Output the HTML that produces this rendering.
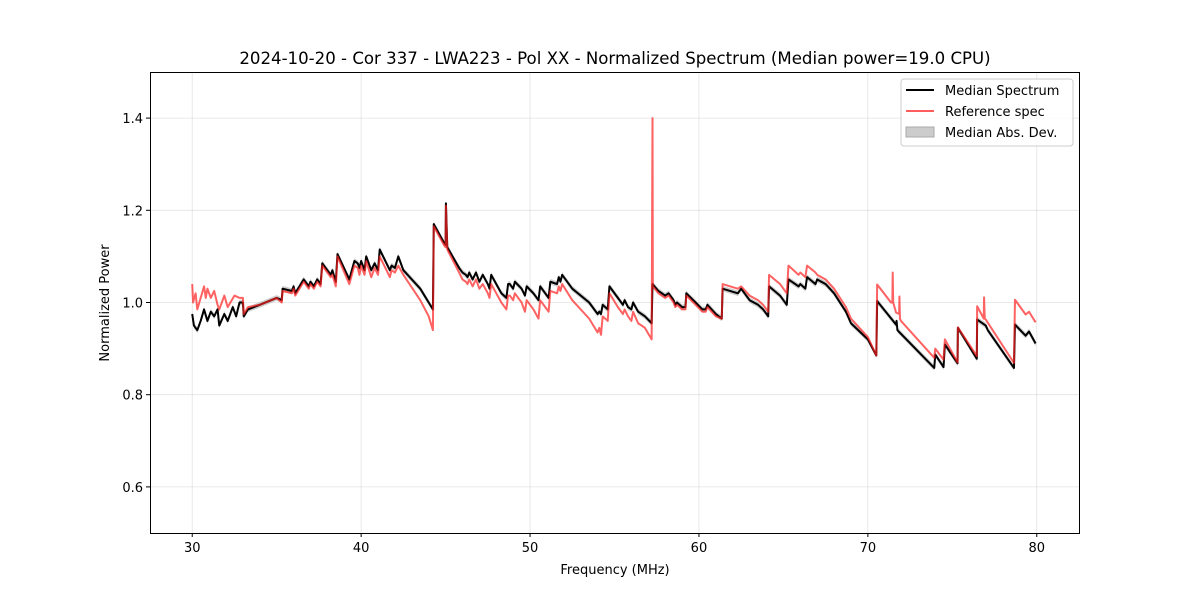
<!DOCTYPE html>
<html><head><meta charset="utf-8"><style>
body{margin:0;background:#fff;font-family:"Liberation Sans","DejaVu Sans",sans-serif}
</style></head><body>
<svg id="chart" width="1200" height="600" xmlns="http://www.w3.org/2000/svg" font-family="DejaVu Sans, Liberation Sans, sans-serif">
<rect width="1200" height="600" fill="#fff"/>
<text x="615" y="64" font-size="16.6" text-anchor="middle">2024-10-20 - Cor 337 - LWA223 - Pol XX - Normalized Spectrum (Median power=19.0 CPU)</text>
<g id="grid"></g>
<g id="plot"></g>
<rect x="150.5" y="72.5" width="929" height="461" fill="none" stroke="#000" stroke-width="1"/>
<g id="ticks" font-size="13"></g>
<text x="615" y="574" font-size="13" text-anchor="middle">Frequency (MHz)</text>
<text transform="translate(109,303) rotate(-90)" font-size="13" text-anchor="middle">Normalized Power</text>
<g>
<rect x="901" y="79" width="172" height="67" rx="3" fill="#fff" fill-opacity="0.8" stroke="#ccc"/>
<line x1="906" y1="90" x2="934" y2="90" stroke="#000" stroke-width="2"/>
<text x="945" y="95" font-size="13">Median Spectrum</text>
<line x1="906" y1="111" x2="934" y2="111" stroke="#ff5c5c" stroke-width="2"/>
<text x="945" y="116" font-size="13">Reference spec</text>
<rect x="906" y="127" width="28" height="10" fill="#ccc" stroke="#aaa"/>
<text x="945" y="137" font-size="13">Median Abs. Dev.</text>
</g>
</svg>
<script>
const xTicks=[30,40,50,60,70,80];
const yTicks=[0.6,0.8,1.0,1.2,1.4];
const medFreq=[30.0,30.1,30.3,30.5,30.7,30.9,31.1,31.3,31.5,31.6,31.9,32.1,32.4,32.6,32.8,33.0,33.05,33.3,34.0,35.0,35.3,35.35,35.9,36.0,36.1,36.6,36.9,37.0,37.2,37.4,37.6,37.7,38.2,38.3,38.5,38.6,39.3,39.6,39.8,39.9,40.0,40.2,40.3,40.6,40.8,41.0,41.1,41.7,41.8,42.0,42.2,42.5,43.5,44.0,44.25,44.3,44.9,45.0,45.02,45.1,45.8,46.0,46.2,46.3,46.4,46.6,46.8,47.0,47.2,47.5,47.6,47.7,48.3,48.6,48.7,48.8,49.0,49.1,49.5,49.7,49.8,50.2,50.5,50.6,50.9,51.1,51.2,51.6,51.7,51.8,51.9,52.5,53.5,54.0,54.1,54.2,54.3,54.6,54.7,55.2,55.5,55.6,55.8,56.0,56.1,56.4,56.8,57.2,57.25,57.6,58.0,58.2,58.5,58.6,58.7,59.0,59.2,59.25,59.8,60.2,60.4,60.5,61.0,61.35,61.4,62.3,62.5,63.0,63.5,63.8,64.1,64.15,64.8,65.2,65.3,65.9,66.0,66.3,66.4,66.9,67.0,67.5,68.0,68.7,69.0,70.0,70.5,70.55,71.67,71.7,71.75,73.93,73.99,74.48,74.56,75.31,75.33,76.45,76.47,76.98,77.1,78.65,78.71,79.34,79.54,79.93];
const medVal=[0.975,0.95,0.94,0.96,0.985,0.96,0.98,0.97,0.985,0.95,0.975,0.96,0.99,0.97,1.0,1.0,0.97,0.985,0.995,1.01,1.005,1.03,1.025,1.035,1.02,1.05,1.035,1.045,1.035,1.05,1.04,1.085,1.06,1.07,1.045,1.105,1.05,1.09,1.085,1.075,1.09,1.07,1.1,1.07,1.085,1.07,1.115,1.07,1.08,1.075,1.1,1.07,1.03,1.0,0.985,1.17,1.13,1.125,1.215,1.12,1.075,1.065,1.06,1.055,1.065,1.05,1.065,1.045,1.06,1.04,1.03,1.06,1.02,1.01,1.04,1.04,1.03,1.045,1.03,1.015,1.035,1.02,1.005,1.035,1.02,1.01,1.045,1.04,1.055,1.045,1.06,1.03,1.0,0.975,0.98,0.975,0.995,0.985,1.035,1.01,0.995,1.005,0.99,0.985,1.0,0.98,0.97,0.955,1.04,1.025,1.015,1.02,1.005,0.995,1.0,0.99,0.99,1.02,1.0,0.985,0.985,0.995,0.975,0.965,1.03,1.02,1.03,1.005,0.995,0.985,0.97,1.035,1.015,0.995,1.05,1.035,1.04,1.03,1.055,1.04,1.05,1.04,1.02,0.98,0.955,0.92,0.885,1.003,0.952,0.96,0.94,0.858,0.887,0.86,0.909,0.868,0.945,0.878,0.963,0.95,0.94,0.858,0.952,0.928,0.937,0.911];
const refFreq=[30.0,30.05,30.2,30.3,30.5,30.7,30.8,30.9,31.1,31.3,31.5,31.6,31.9,32.1,32.5,32.8,33.0,33.05,33.3,34.0,35.0,35.3,35.35,35.9,36.0,36.1,36.6,36.9,37.0,37.2,37.4,37.6,37.7,38.2,38.3,38.5,38.6,39.3,39.6,39.8,39.9,40.0,40.2,40.3,40.6,40.8,41.0,41.1,41.7,41.8,42.0,42.2,42.5,43.5,44.0,44.25,44.3,44.9,45.0,45.02,45.1,45.8,46.0,46.2,46.3,46.4,46.6,46.8,47.0,47.2,47.5,47.6,47.7,48.3,48.6,48.7,48.8,49.0,49.1,49.5,49.7,49.8,50.2,50.5,50.6,50.9,51.1,51.2,51.6,51.7,51.8,51.9,52.5,53.5,54.0,54.1,54.2,54.3,54.6,54.7,55.2,55.5,55.6,55.8,56.0,56.1,56.4,56.8,57.2,57.25,57.27,57.6,58.0,58.2,58.5,58.6,58.7,59.0,59.2,59.25,59.8,60.2,60.4,60.5,61.0,61.35,61.4,62.3,62.5,63.0,63.5,63.8,64.1,64.15,64.8,65.2,65.3,65.9,66.0,66.3,66.4,66.9,67.0,67.5,68.0,68.7,69.0,70.0,70.5,70.55,71.37,71.45,71.47,71.5,71.67,71.85,71.87,71.9,71.96,73.93,73.99,74.48,74.56,75.31,75.33,76.45,76.47,76.86,76.88,76.92,76.98,78.65,78.71,79.34,79.54,79.93];
const refVal=[1.04,1.0,1.02,0.985,1.01,1.035,1.01,1.03,1.01,1.025,0.995,0.985,1.015,0.99,1.015,1.01,1.01,0.975,0.99,0.995,1.01,1.0,1.025,1.02,1.03,1.015,1.045,1.03,1.04,1.03,1.045,1.035,1.08,1.055,1.06,1.035,1.1,1.04,1.08,1.075,1.06,1.08,1.06,1.09,1.055,1.075,1.06,1.1,1.055,1.07,1.065,1.08,1.06,1.005,0.97,0.94,1.165,1.125,1.12,1.21,1.115,1.065,1.05,1.045,1.04,1.05,1.035,1.05,1.03,1.04,1.02,1.01,1.04,1.0,0.985,1.015,1.015,1.005,1.02,1.0,0.98,1.005,0.985,0.965,1.005,0.99,0.98,1.025,1.02,1.035,1.025,1.04,1.005,0.965,0.935,0.945,0.93,0.97,0.96,1.02,0.99,0.975,0.985,0.97,0.96,0.98,0.955,0.945,0.92,1.4,1.035,1.02,1.01,1.015,1.0,0.99,0.995,0.985,0.985,1.015,0.995,0.98,0.98,0.99,0.97,0.965,1.04,1.03,1.035,1.015,1.005,0.995,0.98,1.06,1.04,1.02,1.08,1.06,1.065,1.055,1.08,1.065,1.06,1.05,1.03,0.99,0.965,0.925,0.885,1.039,1.0,1.0,1.065,1.0,0.978,0.975,1.013,0.965,0.96,0.88,0.90,0.876,0.92,0.87,0.946,0.884,0.992,0.965,1.011,0.965,0.963,0.869,1.006,0.974,0.98,0.957];
const madHalf=0.006;

const X0=150,X1=1079,Y0=533,Y1=72,xmin=27.5,xmax=82.5,ymin=0.5,ymax=1.5;
const xs=v=>X0+(v-xmin)/(xmax-xmin)*(X1-X0);
const ys=v=>Y0-(v-ymin)/(ymax-ymin)*(Y0-Y1);
const NS='http://www.w3.org/2000/svg';
const mk=(t,a,p)=>{const e=document.createElementNS(NS,t);for(const k in a)e.setAttribute(k,a[k]);p.appendChild(e);return e;};
const grid=document.getElementById('grid'),ticks=document.getElementById('ticks'),plot=document.getElementById('plot');
xTicks.forEach(t=>{const x=xs(t);
 const g=mk('line',{x1:x,x2:x,y1:Y1,y2:Y0,stroke:'#b0b0b0','stroke-opacity':0.35,'stroke-width':0.8},grid);
 
 
 const l=mk('line',{x1:x,x2:x,y1:Y0,y2:Y0+4,stroke:'#000'},ticks);
 
 
 const tx=mk('text',{x:x,y:Y0+19,'text-anchor':'middle'},ticks);tx.textContent=t;
 
 
});
yTicks.forEach(t=>{const y=ys(t);
 const g=mk('line',{x1:X0,x2:X1,y1:y,y2:y,stroke:'#b0b0b0','stroke-opacity':0.35,'stroke-width':0.8},grid);
 
 
 const l=mk('line',{x1:X0-4,x2:X0,y1:y,y2:y,stroke:'#000'},ticks);
 
 
 const tx=mk('text',{x:X0-7,y:y+5,'text-anchor':'end'},ticks);tx.textContent=t.toFixed(1);
 
 
});
let up=medFreq.map((f,i)=>xs(f)+','+ys(medVal[i]+madHalf));
let dn=medFreq.map((f,i)=>xs(f)+','+ys(medVal[i]-madHalf)).reverse();
const band=mk('polygon',{points:up.concat(dn).join(' '),fill:'#aaa','fill-opacity':0.6,stroke:'none'},plot);


const med=mk('polyline',{points:medFreq.map((f,i)=>xs(f)+','+ys(medVal[i])).join(' '),fill:'none',stroke:'#000','stroke-width':2,'stroke-linejoin':'round'},plot);


const ref=mk('polyline',{points:refFreq.map((f,i)=>xs(f)+','+ys(refVal[i])).join(' '),fill:'none',stroke:'#ff2020','stroke-opacity':0.7,'stroke-width':2,'stroke-linejoin':'round'},plot);


</script>
</body></html>
